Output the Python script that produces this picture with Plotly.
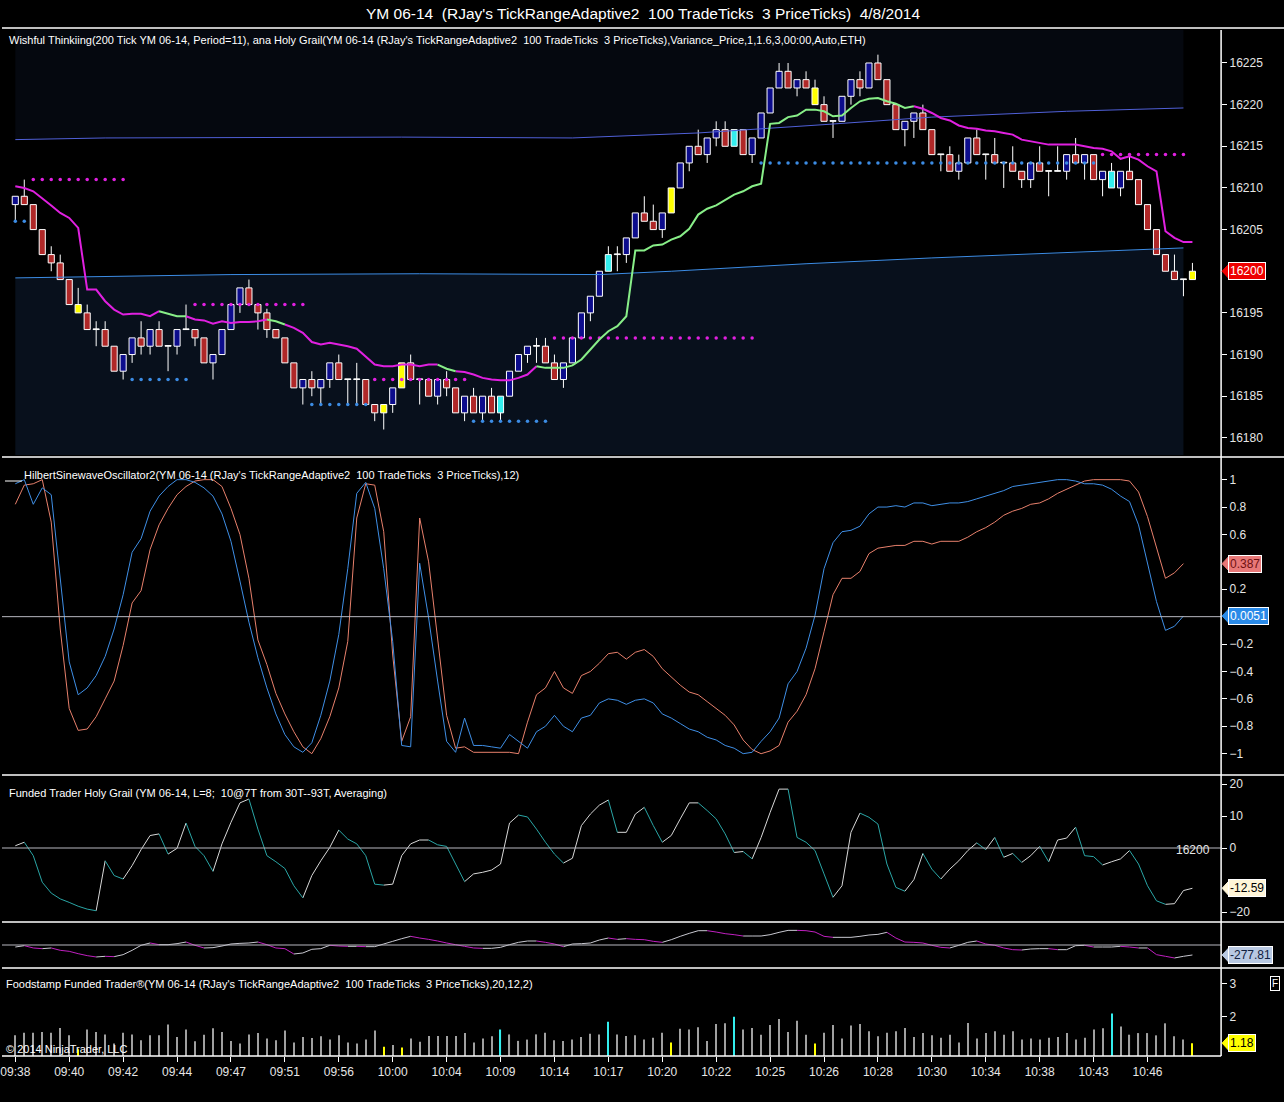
import plotly.graph_objects as go

# ---- data ----
time_labels = ["09:38", "09:40", "09:42", "09:44", "09:47", "09:51", "09:56", "10:00",
               "10:04", "10:09", "10:14", "10:17", "10:20", "10:22", "10:25", "10:26",
               "10:28", "10:30", "10:34", "10:38", "10:43", "10:46"]

opens = [16208, 16209, 16208, 16205, 16202, 16201, 16199, 16196, 16195, 16193,
         16193, 16191, 16188, 16190, 16192, 16191, 16193, 16191, 16191, 16193,
         16193, 16192, 16189, 16190, 16193, 16196, 16198, 16196, 16195, 16193,
         16192, 16189, 16186, 16187, 16186, 16187, 16189, 16187, 16187, 16187,
         16184, 16184, 16184, 16189, 16189, 16187, 16187, 16185, 16187, 16186,
         16183, 16185, 16183, 16185, 16185, 16185, 16188, 16190, 16191, 16191,
         16189, 16187, 16189, 16192, 16195, 16197, 16200, 16202, 16202, 16204,
         16207, 16206, 16205, 16207, 16210, 16213, 16215, 16214, 16216, 16217,
         16217, 16217, 16214, 16216, 16219, 16222, 16224, 16222, 16223, 16222,
         16220, 16218, 16218, 16221, 16223, 16222, 16225, 16223, 16220, 16217,
         16218, 16219, 16217, 16214, 16214, 16212, 16213, 16216, 16214, 16214,
         16213, 16213, 16212, 16211, 16213, 16212, 16212, 16212, 16214, 16213,
         16214, 16211, 16212, 16210, 16212, 16211, 16208, 16205, 16202, 16200,
         16199, 16199]
highs = [16209, 16211, 16208, 16205, 16203, 16202, 16199, 16198, 16196, 16194,
         16194, 16191, 16190, 16192, 16194, 16193, 16194, 16191, 16193, 16196,
         16193, 16192, 16190, 16193, 16196, 16198, 16199, 16196, 16195.5, 16193,
         16192, 16189, 16187, 16188, 16187, 16189, 16190, 16187, 16189, 16187,
         16184, 16184, 16186, 16189, 16190, 16187, 16187, 16187, 16188, 16186,
         16185, 16186, 16185, 16186, 16185, 16188, 16190, 16191, 16192, 16192,
         16190, 16189, 16192, 16195, 16197, 16200, 16203, 16203, 16204, 16207,
         16209, 16208, 16207, 16210, 16213, 16215, 16217, 16216, 16218, 16218,
         16217, 16217, 16216, 16219, 16222, 16225, 16225, 16223, 16224, 16223,
         16221, 16218, 16221, 16223, 16224, 16225, 16226, 16223, 16220, 16218,
         16219, 16220, 16217, 16214, 16215, 16214, 16216, 16217, 16214, 16216,
         16213, 16215, 16212, 16213, 16215, 16212, 16215, 16214, 16216, 16214,
         16214, 16212, 16213, 16212, 16214, 16211, 16208, 16205, 16202, 16202,
         16199, 16201]
lows = [16206, 16208, 16205, 16202, 16200, 16199, 16196, 16195, 16193, 16191,
        16191, 16188, 16187, 16189, 16190, 16190, 16191, 16188, 16190, 16193,
        16191, 16189, 16187, 16190, 16193, 16195, 16196, 16193, 16192, 16192,
        16189, 16186, 16184, 16185, 16184, 16186, 16187, 16184, 16184, 16184,
        16182, 16181, 16183, 16186, 16187, 16184, 16185, 16184, 16185, 16183,
        16182, 16183, 16182, 16183, 16182, 16185, 16188, 16189, 16189, 16189,
        16187, 16186, 16189, 16192, 16194, 16197, 16200, 16200, 16201, 16204,
        16206, 16205, 16204, 16207, 16210, 16212, 16214, 16213, 16215, 16215,
        16215, 16214, 16213, 16216, 16219, 16222, 16222, 16221, 16222, 16220,
        16218, 16216, 16218, 16220, 16221, 16222, 16223, 16220, 16217, 16215,
        16216, 16217, 16214, 16212, 16212, 16211, 16213, 16214, 16211, 16213,
        16210, 16212, 16210, 16210, 16212, 16209, 16212, 16211, 16213, 16211,
        16211, 16209, 16210, 16209, 16211, 16208, 16205, 16202, 16200, 16199,
        16197, 16199]
closes = [16209, 16208, 16205, 16202, 16201, 16199, 16196, 16195, 16193, 16193,
          16191, 16188, 16190, 16192, 16191, 16193, 16191, 16191, 16193, 16193,
          16192, 16189, 16190, 16193, 16196, 16198, 16196, 16195, 16193, 16192,
          16189, 16186, 16187, 16186, 16187, 16189, 16187, 16187, 16187, 16184,
          16183, 16183, 16186, 16186, 16187, 16187, 16185, 16187, 16186, 16183,
          16185, 16183, 16185, 16183, 16183, 16188, 16190, 16191, 16191, 16189,
          16187, 16189, 16192, 16195, 16197, 16200, 16202, 16202, 16204, 16207,
          16206, 16205, 16207, 16210, 16213, 16215, 16214, 16216, 16217, 16215,
          16215, 16214, 16216, 16219, 16222, 16224, 16222, 16223, 16222, 16220,
          16218, 16218, 16221, 16223, 16222, 16225, 16223, 16220, 16217, 16218,
          16219, 16217, 16214, 16214, 16212, 16213, 16216, 16214, 16214, 16213,
          16213, 16212, 16211, 16213, 16212, 16212, 16212, 16214, 16213, 16214,
          16211, 16212, 16210, 16212, 16211, 16208, 16205, 16202, 16200, 16199,
          16199, 16200]
yellow_bars = [7, 41, 43, 73, 89, 131]
cyan_bars = [54, 66, 80, 122]

holy_grail = [16210.2, 16210.0, 16209.6, 16208.8, 16207.9, 16207.0, 16206.4, 16205.2, 16197.8, 16197.8,
              16196.4, 16195.4, 16194.8, 16194.9, 16194.9, 16194.6, 16195.2, 16194.9, 16194.6, 16194.6,
              16194.2, 16194.1, 16193.7, 16194.0, 16193.8, 16193.9, 16193.9, 16194.0, 16194.2, 16194.0,
              16193.6, 16193.2, 16192.6, 16191.5, 16191.2, 16191.4, 16191.2, 16191.0, 16190.7, 16189.8,
              16188.8, 16188.6, 16188.6, 16188.8, 16188.8, 16188.6, 16188.8, 16188.8, 16188.3, 16188.0,
              16187.9, 16187.6, 16187.2, 16187.0, 16186.9, 16186.9, 16187.2, 16187.6, 16188.6, 16188.4,
              16188.4, 16188.4, 16188.7, 16189.4, 16190.6, 16191.8, 16192.8, 16193.4, 16194.6, 16202.5,
              16202.5, 16203.1, 16203.2, 16203.8, 16204.2, 16205.1, 16206.8, 16207.5, 16207.9, 16208.6,
              16209.2, 16209.6, 16210.2, 16210.5, 16217.7, 16217.8, 16218.5, 16218.7, 16219.4, 16219.4,
              16219.2, 16218.6, 16218.7, 16219.6, 16220.4, 16220.7, 16220.8, 16220.4, 16220.1, 16219.6,
              16219.8, 16219.5, 16219.0, 16218.4, 16218.1, 16217.5, 16217.2, 16217.1, 16216.9, 16216.8,
              16216.6, 16216.4, 16215.8, 16215.6, 16215.4, 16215.2, 16215.2, 16215.2, 16215.2, 16215.0,
              16214.8, 16214.7, 16214.4, 16213.5, 16213.8, 16213.4, 16212.6, 16212.0, 16204.8, 16204.0,
              16203.5, 16203.5]
hg_green = [(16, 19), (28, 30), (47, 49), (58, 100)]

upper_band_bar = [0, 10, 43, 62, 76, 82, 90, 102, 117, 130]
upper_band = [16215.8, 16216.0, 16216.1, 16216.0, 16216.6, 16217.0, 16217.6, 16218.5, 16219.2, 16219.6]
lower_band_bar = [0, 10, 24, 45, 65, 73, 88, 102, 117, 130]
lower_band = [16199.2, 16199.4, 16199.6, 16199.7, 16199.6, 16200.0, 16200.9, 16201.6, 16202.2, 16202.8]

# (first bar, last bar, price)
resist_dots = [(2, 12, 16211), (20, 32, 16196), (40, 50, 16187), (60, 82, 16192), (121, 130, 16214)]
support_dots = [(0, 1, 16206), (13, 19, 16187), (33, 39, 16184), (51, 59, 16182), (83, 120, 16213)]

sine = [0.97, 1.0, 0.82, 0.94, 0.89, 0.28, -0.33, -0.57, -0.52, -0.43,
        -0.29, -0.09, 0.16, 0.47, 0.57, 0.77, 0.88, 0.95, 1.0, 1.0,
        0.98, 0.94, 0.88, 0.75, 0.55, 0.26, -0.04, -0.30, -0.52, -0.71,
        -0.86, -0.95, -0.99, -0.92, -0.72, -0.47, -0.13, 0.35, 0.90, 0.98,
        0.79, 0.35, -0.18, -0.94, -0.95, 0.39, -0.01, -0.47, -0.91, -0.99,
        -0.74, -0.94, -0.94, -0.95, -0.96, -0.86, -0.91, -0.96, -0.84, -0.80,
        -0.72, -0.80, -0.84, -0.74, -0.72, -0.63, -0.60, -0.61, -0.64, -0.61,
        -0.60, -0.63, -0.71, -0.74, -0.78, -0.82, -0.84, -0.88, -0.90, -0.94,
        -0.96, -1.0, -0.99, -0.91, -0.84, -0.74, -0.49, -0.40, -0.23, 0.01,
        0.35, 0.54, 0.62, 0.63, 0.66, 0.75, 0.80, 0.80, 0.81, 0.80,
        0.83, 0.83, 0.81, 0.82, 0.83, 0.83, 0.84, 0.86, 0.88, 0.90,
        0.92, 0.95, 0.96, 0.97, 0.98, 0.99, 1.0, 1.0, 0.99, 0.97,
        0.97, 0.96, 0.93, 0.88, 0.84, 0.67, 0.40, 0.11, -0.10, -0.07,
        0.0051]
lead_sine = [0.82, 0.96, 0.97, 1.0, 0.69, -0.09, -0.67, -0.83, -0.82, -0.73,
             -0.60, -0.47, -0.21, 0.10, 0.19, 0.49, 0.67, 0.79, 0.89, 0.95,
             0.99, 1.0, 1.0, 0.95, 0.79, 0.60, 0.28, -0.17, -0.35, -0.56,
             -0.71, -0.84, -0.95, -1.0, -0.89, -0.73, -0.52, -0.18, 0.72, 0.97,
             0.96, 0.62, -0.28, -0.91, -0.73, 0.72, 0.40, -0.18, -0.72, -0.96,
             -0.95, -0.99, -0.99, -0.99, -0.99, -0.99, -1.0, -0.77, -0.57, -0.52,
             -0.40, -0.52, -0.56, -0.43, -0.40, -0.34, -0.27, -0.26, -0.31, -0.26,
             -0.24, -0.29, -0.38, -0.44, -0.50, -0.55, -0.57, -0.62, -0.67, -0.72,
             -0.79, -0.90, -0.97, -1.0, -0.98, -0.94, -0.77, -0.69, -0.57, -0.38,
             -0.11, 0.16, 0.28, 0.28, 0.33, 0.46, 0.50, 0.51, 0.52, 0.52,
             0.55, 0.55, 0.53, 0.55, 0.55, 0.55, 0.58, 0.62, 0.65, 0.69,
             0.74, 0.77, 0.79, 0.82, 0.83, 0.86, 0.90, 0.93, 0.96, 0.99,
             1.0, 1.0, 1.0, 1.0, 0.99, 0.91, 0.73, 0.51, 0.28, 0.32,
             0.387]

funded = [0.7, 1.8, -2.4, -10.7, -14.1, -15.9, -17.0, -18.2, -19.1, -19.6,
          -4.0, -8.6, -9.7, -5.5, -0.5, 3.9, 4.4, -1.9, -0.1, 7.8,
          0.5, -2.4, -7.3, 1.3, 8.0, 14.1, 15.3, 5.9, -2.4, -4.3,
          -6.4, -11.8, -15.6, -8.6, -4.0, 0.2, 5.6, 2.8, 1.3, -2.4,
          -11.3, -11.6, -11.3, -2.4, 1.3, 2.5, 2.5, 1.0, 0.5, -5.0,
          -10.5, -8.1, -7.6, -6.9, -5.0, 7.8, 10.3, 9.7, 5.9, 1.8,
          -1.9, -4.7, -3.2, 7.0, 10.6, 13.4, 15.0, 4.9, 4.9, 10.6,
          12.7, 7.0, 1.8, 3.9, 9.1, 14.1, 14.1, 11.7, 9.1, 4.4,
          -1.4, -1.1, -3.4, 3.3, 11.1, 18.4, 18.4, 3.3, 1.8, -0.8,
          -8.1, -15.4, -11.8, 4.9, 10.9, 9.6, 7.5, -5.0, -12.3, -13.5,
          -9.9, -1.7, -6.6, -9.7, -6.6, -4.0, -0.8, 1.6, -0.5, 3.3,
          -2.9, -1.7, -4.5, -2.4, 0.5, -4.3, 2.5, 3.1, 6.5, -2.4,
          -2.7, -5.3, -4.3, -3.4, -0.8, -5.0, -11.8, -16.5, -17.6, -17.4,
          -13.3, -12.59]

funded_sum = [-56, -19, -83, -102, -83, -148, -176, -241, -296, -333,
              -315, -324, -269, -148, -9, 56, 9, 9, 37, 83,
              -9, -83, -74, -28, 28, 46, 56, 83, 9, -83,
              -102, -250, -222, -120, -102, -9, -28, -37, -37, -46,
              -46, 28, 102, 176, 241, 194, 157, 111, 56, 9,
              -37, -83, -93, -93, -65, 9, 74, 111, 111, 74,
              28, -46, 28, 37, 56, 139, 194, 157, 176, 157,
              148, 102, 74, 148, 241, 324, 398, 398, 361, 315,
              287, 250, 250, 250, 287, 352, 407, 407, 398, 361,
              241, 213, 213, 213, 241, 278, 296, 352, 194, 83,
              74, 56, -9, -65, -83, -9, 74, 111, 28, -9,
              -83, -130, -139, -111, -102, -102, -130, -130, -19, -9,
              -56, -56, -56, -37, -56, -83, -83, -269, -315, -361,
              -315, -277.81]

foodstamp = [1.42, 1.5, 1.5, 1.52, 1.5, 1.65, 1.42, 0.99, 1.6, 1.52,
             1.45, 1.17, 1.5, 1.45, 1.27, 1.42, 1.42, 1.75, 1.37, 1.6,
             1.24, 1.44, 1.64, 1.52, 1.25, 1.17, 1.45, 1.49, 1.32, 1.27,
             1.57, 1.2, 1.37, 1.34, 1.39, 1.29, 1.42, 1.2, 1.17, 1.29,
             1.57, 1.07, 1.12, 1.05, 1.32, 1.22, 1.4, 1.4, 1.4, 1.4,
             1.49, 1.2, 1.32, 1.39, 1.6, 1.45, 1.25, 1.29, 1.45, 1.5,
             1.27, 1.25, 1.29, 1.37, 1.47, 1.45, 1.84, 1.45, 1.4, 1.42,
             1.29, 1.35, 1.5, 1.2, 1.62, 1.6, 1.67, 1.25, 1.77, 1.79,
             1.99, 1.6, 1.65, 1.44, 1.74, 1.92, 1.52, 1.87, 1.44, 1.17,
             1.5, 1.74, 1.32, 1.72, 1.77, 1.55, 1.39, 1.5, 1.55, 1.65,
             1.37, 1.49, 1.42, 1.35, 1.44, 1.2, 1.8, 1.32, 1.49, 1.55,
             1.44, 1.55, 1.29, 1.32, 1.29, 1.35, 1.37, 1.49, 1.29, 1.35,
             1.6, 1.64, 2.09, 1.69, 1.44, 1.49, 1.49, 1.42, 1.79, 1.39,
             1.29, 1.18]

last_price = 16200

# tick labels shown on each right-hand scale (the ones hidden under value boxes left out)
price_ticks = [16180, 16185, 16190, 16195, 16205, 16210, 16215, 16220, 16225]
osc_ticks = [-1, -0.8, -0.6, -0.4, -0.2, 0.2, 0.6, 0.8, 1]
funded_ticks = [-20, 0, 10, 20]
sum_ticks = []
food_ticks = [2, 3]

# ---- helpers ----
W, H = 1284, 1102
FONT = "Arial, Liberation Sans, sans-serif"


def px(x):
    return x / W


def py(y):
    return 1 - y / H


bars = list(range(len(opens)))
xr = [-1.48, 134.19]
AX_X = 1221

fig = go.Figure()

# background shading of the price pane (below lower band / above upper band)
top_p, bot_p = 16228.96, 16177.94
path_low = "M " + " L ".join(f"{b},{v}" for b, v in zip(lower_band_bar, lower_band))
path_low += f" L {lower_band_bar[-1]},{bot_p} L {lower_band_bar[0]},{bot_p} Z"
path_up = "M " + " L ".join(f"{b},{v}" for b, v in zip(upper_band_bar, upper_band))
path_up += f" L {upper_band_bar[-1]},{top_p} L {upper_band_bar[0]},{top_p} Z"
shapes = [
    dict(type="path", path=path_low, xref="x", yref="y", fillcolor="#08101c", line_width=0, layer="below"),
    dict(type="path", path=path_up, xref="x", yref="y", fillcolor="#05080f", line_width=0, layer="below"),
]

# candle bodies
body_col = []
for i in bars:
    if i in yellow_bars:
        body_col.append("#ffff00")
    elif i in cyan_bars:
        body_col.append("#33eeee")
    elif closes[i] > opens[i]:
        body_col.append("#0c0c8c")
    elif closes[i] < opens[i]:
        body_col.append("#b02828")
    else:
        body_col.append("#ffffff")
fig.add_trace(go.Bar(
    x=bars, y=[max(abs(c - o), 0.08) for o, c in zip(opens, closes)],
    base=[min(o, c) for o, c in zip(opens, closes)],
    width=0.68, marker=dict(color=body_col, line=dict(color="white", width=1)),
    xaxis="x", yaxis="y"))

# wicks (above and below the body)
wx, wy = [], []
for i in bars:
    top, bot = max(opens[i], closes[i]), min(opens[i], closes[i])
    if highs[i] > top:
        wx += [i, i, None]
        wy += [highs[i], top, None]
    if lows[i] < bot:
        wx += [i, i, None]
        wy += [bot, lows[i], None]
fig.add_trace(go.Scatter(x=wx, y=wy, mode="lines", line=dict(color="white", width=1),
                         xaxis="x", yaxis="y"))

# variance bands
fig.add_trace(go.Scatter(x=upper_band_bar, y=upper_band, mode="lines",
                         line=dict(color="#5060d8", width=1), xaxis="x", yaxis="y"))
fig.add_trace(go.Scatter(x=lower_band_bar, y=lower_band, mode="lines",
                         line=dict(color="#3c8ce4", width=1), xaxis="x", yaxis="y"))

# dotted support / resistance
for levels, col in [(resist_dots, "#e020e0"), (support_dots, "#3c8ce4")]:
    dx, dy = [], []
    for a, b, p in levels:
        dx += list(range(a, b + 1))
        dy += [p] * (b - a + 1)
    fig.add_trace(go.Scatter(x=dx, y=dy, mode="markers", marker=dict(color=col, size=3.5),
                             xaxis="x", yaxis="y"))

# holy grail line, green while trending up
green_ranges = hg_green
mag_ranges = []
start = 0
for a, b in green_ranges:
    mag_ranges.append((start, a))
    start = b
mag_ranges.append((start, len(holy_grail) - 1))
for ranges, col in [(mag_ranges, "#e020e0"), (green_ranges, "#88ee88")]:
    lx, ly = [], []
    for a, b in ranges:
        lx += list(range(a, b + 1)) + [None]
        ly += holy_grail[a:b + 1] + [None]
    fig.add_trace(go.Scatter(x=lx, y=ly, mode="lines", line=dict(color=col, width=2),
                             xaxis="x", yaxis="y"))

# hilbert sine wave
fig.add_trace(go.Scatter(x=bars[:len(lead_sine)], y=lead_sine, mode="lines",
                         line=dict(color="#e8806c", width=1), xaxis="x2", yaxis="y2"))
fig.add_trace(go.Scatter(x=bars[:len(sine)], y=sine, mode="lines",
                         line=dict(color="#3f8fe6", width=1), xaxis="x2", yaxis="y2"))


# up / down coloured lines
def two_tone(vals, up_col, dn_col, xa, ya):
    for want_up, col in [(True, up_col), (False, dn_col)]:
        lx, ly = [], []
        for i in range(len(vals) - 1):
            if (vals[i + 1] >= vals[i]) == want_up:
                lx += [i, i + 1, None]
                ly += [vals[i], vals[i + 1], None]
        fig.add_trace(go.Scatter(x=lx, y=ly, mode="lines", line=dict(color=col, width=1),
                                 xaxis=xa, yaxis=ya))


two_tone(funded, "#d8d8d8", "#2aa6a6", "x3", "y3")
two_tone(funded_sum, "#c8c8d0", "#c020c0", "x4", "y4")

# foodstamp histogram
fs_col = ["#ffff00" if i in yellow_bars else "#33eeee" if i in cyan_bars else "#a0a0a0" for i in bars]
fig.add_trace(go.Bar(x=bars, y=foodstamp, width=0.12, marker=dict(color=fs_col, line_width=0),
                     xaxis="x5", yaxis="y5"))

# ---- axes ----
panes = [  # (top px, bottom px, y range, tick values)
    (30, 455, [bot_p, top_p], price_ticks),
    (458, 773, [-1.141, 1.158], osc_ticks),
    (776, 920, [-22.5, 22.5], funded_ticks),
    (923, 967, [-612, 612], sum_ticks),
    (970, 1056, [0.785, 3.43], food_ticks),
]
layout_axes = {}
for k, (t, b, yr, tv) in enumerate(panes, start=1):
    sx = "" if k == 1 else str(k)
    layout_axes["xaxis" + sx] = dict(
        domain=[0, px(AX_X)], range=xr, anchor="y" + sx, showgrid=False, zeroline=False,
        showticklabels=(k == 5), ticks="outside" if k == 5 else "", ticklen=5, tickcolor="white",
        tickvals=list(range(0, 6 * len(time_labels), 6)) if k == 5 else None,
        ticktext=time_labels if k == 5 else None, ticklabeloverflow="allow",
        tickfont=dict(family=FONT, size=12, color="#e6e6e6"), fixedrange=True)
    layout_axes["yaxis" + sx] = dict(
        domain=[py(b), py(t)], range=yr, anchor="x" + sx, side="right", showgrid=False,
        zeroline=False, tickvals=tv, tickformat="d" if k == 1 else "", ticks="outside",
        ticklen=5, tickcolor="white",
        tickfont=dict(family=FONT, size=12, color="#e6e6e6"), fixedrange=True)

# zero lines of the oscillator panes
for ya, yv in [("y2", 0), ("y3", 0), ("y4", 0)]:
    shapes.append(dict(type="line", xref="paper", yref=ya, x0=0, x1=px(AX_X), y0=yv, y1=yv,
                       line=dict(color="#b8b8c0", width=1)))

# pane separators and price scale line
for y in [28, 457, 775, 922, 968]:
    shapes.append(dict(type="line", xref="paper", yref="paper", x0=0, x1=1, y0=py(y), y1=py(y),
                       line=dict(color="white", width=1.5)))
shapes.append(dict(type="line", xref="paper", yref="paper", x0=0, x1=px(AX_X), y0=py(1056), y1=py(1056),
                   line=dict(color="white", width=1.5)))
shapes.append(dict(type="line", xref="paper", yref="paper", x0=px(AX_X), x1=px(AX_X), y0=py(1056), y1=py(30),
                   line=dict(color="white", width=1.5)))
shapes.append(dict(type="line", xref="paper", yref="paper", x0=px(3), x1=px(20), y0=py(481), y1=py(481),
                   line=dict(color="white", width=1)))

annotations = [
    dict(text="YM 06-14 \u00a0(RJay's TickRangeAdaptive2 \u00a0100 TradeTicks \u00a03 PriceTicks) \u00a04/8/2014",
         x=px(642), y=py(13), xanchor="center", font=dict(size=15.5, color="white")),
    dict(text="Wishful Thinkiing(200 Tick YM 06-14, Period=11), ana Holy Grail(YM 06-14 (RJay's "
              "TickRangeAdaptive2 \u00a0100 TradeTicks \u00a03 PriceTicks),Variance_Price,1,1.6,3,00:00,Auto,ETH)",
         x=px(5), y=py(40), xanchor="left", font=dict(size=11, color="white")),
    dict(text="HilbertSinewaveOscillator2(YM 06-14 (RJay's TickRangeAdaptive2 \u00a0100 TradeTicks "
              "\u00a03 PriceTicks),12)",
         x=px(20), y=py(475), xanchor="left", font=dict(size=11, color="white")),
    dict(text="Funded Trader Holy Grail (YM 06-14, L=8; \u00a010@7T from 30T--93T, Averaging)",
         x=px(5), y=py(793), xanchor="left", font=dict(size=11, color="white")),
    dict(text="Foodstamp Funded Trader\u00ae(YM 06-14 (RJay's TickRangeAdaptive2 \u00a0100 TradeTicks "
              "\u00a03 PriceTicks),20,12,2)",
         x=px(2), y=py(984), xanchor="left", font=dict(size=11, color="white")),
    dict(text="\u00a9 2014 NinjaTrader, LLC", x=px(2), y=py(1049), xanchor="left",
         font=dict(size=11, color="white")),
    dict(text=str(last_price), x=px(1212), y=py(850), xanchor="right", font=dict(size=12, color="#e6e6e6")),
    dict(text="F", x=px(1275), y=py(983), xanchor="center", font=dict(size=10, color="white"),
         bordercolor="white", borderwidth=1, borderpad=1),
]
for a in annotations:
    a.setdefault("xref", "paper")
    a.setdefault("yref", "paper")
    a.setdefault("yanchor", "middle")
    a.setdefault("showarrow", False)
    a["font"]["family"] = FONT

# last-value markers on the right scales: (axis, value, px per unit, text, fill, text colour)
markers = [
    ("y", last_price, 8.33, str(last_price), "#ee0000", "white"),
    ("y2", lead_sine[-1], 137, "0.387", "#e87878", "#701010"),
    ("y2", sine[-1], 137, "0.0051", "#2a8ae8", "white"),
    ("y3", funded[-1], 3.2, "-12.59", "#fff6d8", "black"),
    ("y4", funded_sum[-1], 0.036, "-277.81", "#b8c8e2", "#102040"),
    ("y5", foodstamp[-1], 32.5, "1.18", "#ffff00", "black"),
]
for ya, v, scale, txt, fill, tc in markers:
    h = 7.5 / scale
    shapes.append(dict(type="path", xref="paper", yref=ya, fillcolor=fill, line=dict(color=fill, width=1),
                       path=f"M {px(AX_X + 1)},{v} L {px(AX_X + 8)},{v + h} L {px(AX_X + 8)},{v - h} Z"))
    annotations.append(dict(text=txt, xref="paper", yref=ya, x=px(AX_X + 7), y=v, xanchor="left",
                            yanchor="middle", showarrow=False, bgcolor=fill, bordercolor="white",
                            borderwidth=1, borderpad=1, font=dict(family=FONT, size=12, color=tc)))

fig.update_layout(
    width=W, height=H, margin=dict(l=0, r=0, t=0, b=0),
    paper_bgcolor="black", plot_bgcolor="black",
    showlegend=False, hovermode=False, barmode="overlay",
    shapes=shapes, annotations=annotations,
    font=dict(family=FONT, color="white"),
    **layout_axes)

fig.write_html("out.html", config={"displayModeBar": False},
               post_script="document.body.style.margin='0';document.body.style.background='black';")
